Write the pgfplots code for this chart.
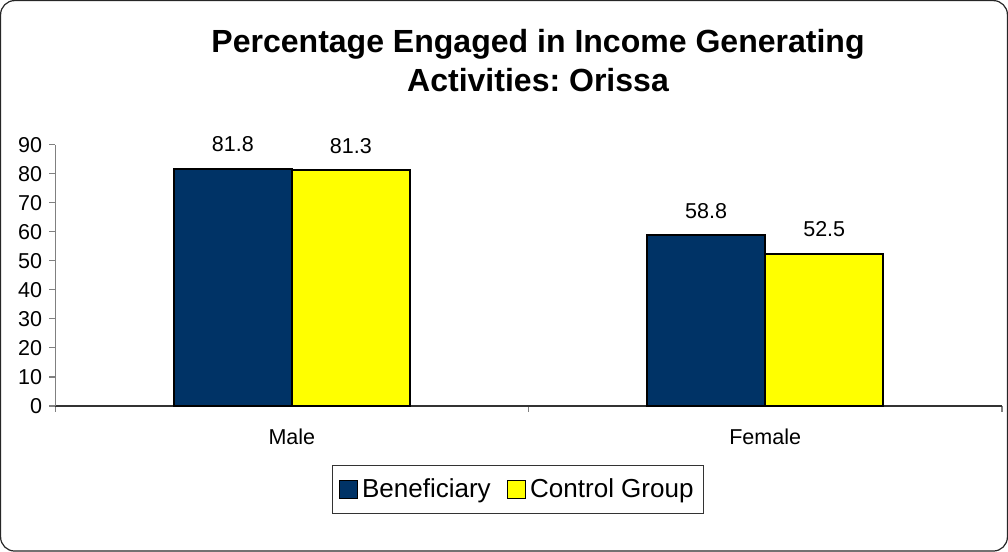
\documentclass[border=0pt]{standalone}
\usepackage{fontspec}
\setmainfont{Liberation Sans}
\usepackage{pgfplots}
\pgfplotsset{compat=1.18}
\definecolor{navy}{RGB}{0,51,102}
\definecolor{yel}{RGB}{255,255,0}
\frenchspacing
\begin{document}
\begin{tikzpicture}
\draw[rounded corners=7pt, line width=0.6pt, black!85] (0.5pt,0.5pt) rectangle (503.5pt,275.5pt);
\node[font=\fontsize{16}{19.5}\selectfont\bfseries, align=center] at (269pt,245.75pt) {Percentage Engaged in Income Generating\\Activities: Orissa};
\begin{axis}[
  at={(27.75pt,73pt)}, anchor=south west,
  scale only axis, width=473pt, height=130.5pt,
  xmin=0, xmax=2, ymin=0, ymax=90,
  axis x line*=bottom, axis y line*=left,
  x axis line style={black!80, line width=0.6pt},
  y axis line style={gray, line width=0.6pt},
  tick align=outside, major tick length=3pt, minor tick length=3pt,
  ytick={0,10,...,90},
  ytick style={gray, line width=0.6pt},
  xtick={0.5,1.5}, xticklabels={Male,Female},
  minor xtick={0,1,2},
  major x tick style={draw=none},
  minor x tick style={gray, line width=0.6pt},
  /pgf/number format/assume math mode=true,
  tick label style={font=\fontsize{10.75}{12}\selectfont},
  xticklabel style={yshift=-5pt},
  ybar=0pt, bar width=59pt,
  clip=false,
  nodes near coords,
  nodes near coords style={font=\fontsize{10.75}{12}\selectfont, yshift=4.5pt, /pgf/number format/fixed, /pgf/number format/precision=1, /pgf/number format/fixed zerofill, /pgf/number format/assume math mode=true},
  legend columns=2,
  legend style={at={(0.489,-0.32)}, anchor=center, draw=black!80, line width=0.5pt,
    font=\fontsize{13}{15}\selectfont, inner ysep=4.5pt, inner xsep=3pt,
    /tikz/every even column/.append style={column sep=6pt}},
  legend image code/.code={\draw[#1, line width=0.7pt] (0pt,-4.5pt) rectangle (9pt,4.5pt);},
]
\addplot[fill=navy, draw=black, line width=1pt] coordinates {(0.5,81.8) (1.5,58.8)};
\addplot[fill=yel, draw=black, line width=1pt] coordinates {(0.5,81.3) (1.5,52.5)};
\legend{Beneficiary, Control Group}
\end{axis}
\end{tikzpicture}
\end{document}
